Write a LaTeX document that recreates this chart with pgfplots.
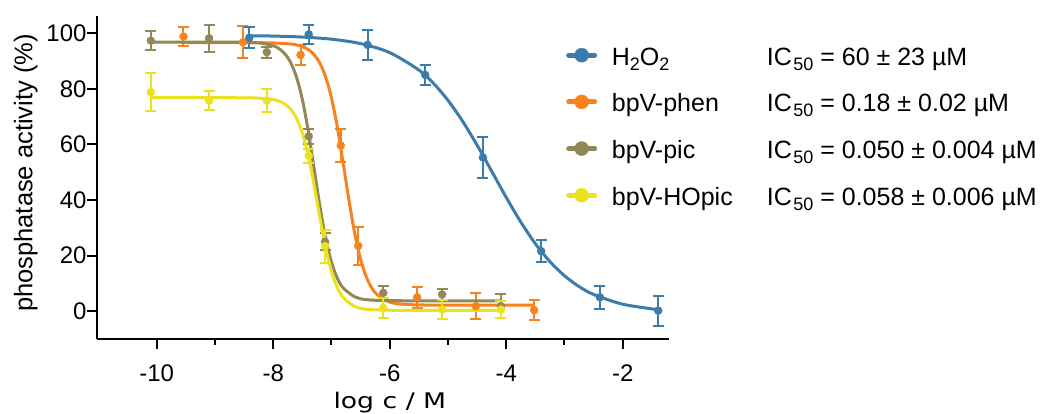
\documentclass[border=0pt]{standalone}
\usepackage{fontspec}
\setmainfont{Liberation Sans}
\newfontfamily\xlabfont{DejaVu Sans}
\usepackage{graphicx}
\usepackage{pgfplots}
\pgfplotsset{compat=1.18}
\definecolor{cblue}{RGB}{60,124,170}
\definecolor{corange}{RGB}{247,130,30}
\definecolor{colive}{RGB}{146,136,86}
\definecolor{cyellow}{RGB}{234,226,30}
\newcommand\sub[1]{\raisebox{-5pt}{\fontsize{18}{18}\selectfont #1}}
\pgfplotsset{
  datapts/.style={#1, only marks, mark=*, mark size=4pt, forget plot,
    error bars/y dir=both, error bars/y explicit,
    error bars/error bar style={line width=2pt, #1},
    error bars/error mark options={#1, line width=2pt, mark size=5.5pt, rotate=90}},
  fitcurve/.style={#1, line width=3pt, smooth, forget plot},
}
\begin{document}
\begin{tikzpicture}
\path[use as bounding box] (-97pt,-75pt) rectangle (948pt,339pt);
\begin{axis}[
  at={(0pt,0pt)}, anchor=south west, scale only axis,
  width=572pt, height=323pt,
  xmin=-11.025, xmax=-1.205, ymin=-10, ymax=106.2,
  axis x line*=bottom, axis y line*=left,
  axis line style={-, line width=2pt, black},
  xtick={-10,-8,-6,-4,-2}, xticklabels={-10,-8,-6,-4,-2},
  minor xtick={-9,-7,-5,-3},
  ytick={0,20,40,60,80,100}, yticklabels={0,20,40,60,80,100},
  tick align=outside, major tick length=10pt, minor tick length=6pt,
  tick style={line width=2pt, black},
  tick label style={font=\fontsize{24}{28}\selectfont},
  xticklabel style={yshift=-12pt},
  yticklabel style={xshift=3pt},
  every axis y label/.style={at={(axis description cs:-0.1247,0.514)}, rotate=90, anchor=center},
  every axis x label/.style={at={(axis description cs:0.512,-0.214)}, anchor=base},
  ylabel={\fontsize{25.5}{30}\selectfont phosphatase activity (\%)},
  xlabel={\xlabfont\fontsize{21.5}{25}\selectfont\scalebox{1.24}[1]{log c / M}},
  legend cell align=left,
  legend image code/.code={
    \draw[#1, line width=5pt, line cap=round] (2.5pt,0pt) -- (28.5pt,0pt);
    \fill[#1] (15.5pt,0pt) circle (7pt);},
  legend style={at={(axis description cs:0.8199,0.9102)}, anchor=north west,
    draw=none, fill=none, inner sep=0pt, row sep=26.7pt, column sep=14.7pt,
    nodes={inner sep=0pt, text height=20pt, text depth=0pt},
    font=\fontsize{25}{30}\selectfont},
]
\addlegendimage{cblue}
\addlegendentry{\makebox[155pt][l]{H\sub{2}O\sub{2}}IC\hspace{1.5pt}\sub{50} = 60 ± 23 µM}
\addlegendimage{corange}
\addlegendentry{\makebox[155pt][l]{bpV-phen}IC\hspace{1.5pt}\sub{50} = 0.18 ± 0.02 µM}
\addlegendimage{colive}
\addlegendentry{\makebox[155pt][l]{bpV-pic}IC\hspace{1.5pt}\sub{50} = 0.050 ± 0.004 µM}
\addlegendimage{cyellow}
\addlegendentry{\makebox[155pt][l]{bpV-HOpic}IC\hspace{1.5pt}\sub{50} = 0.058 ± 0.006 µM}

% ---- bpV-phen (orange)
\addplot[fitcurve=corange] coordinates {
(-9.54,96.6) (-8.5,96.6) (-8.0,96.5) (-7.625,95.92) (-7.425,94.47) (-7.325,92.88)
(-7.225,90.19) (-7.125,85.77) (-7.025,78.92) (-6.925,69.16) (-6.825,56.81)
(-6.725,43.31) (-6.625,30.77) (-6.525,20.72) (-6.425,13.58) (-6.325,8.97)
(-6.225,6.12) (-6.025,3.48) (-5.825,2.61) (-5.525,2.27) (-5.0,2.2) (-3.52,2.2)};
\addplot[datapts=corange] table[x=x, y=y, y error=e] {
x y e
-9.54 98.8 3.3
-8.52 96.8 5.8
-7.53 92.2 3.5
-6.84 59.6 6.0
-6.54 23.5 6.8
-5.53 5.0 3.8
-4.52 1.8 4.6
-3.52 0.4 3.6
};

% ---- H2O2 (blue)
\addplot[fitcurve=cblue] coordinates {
(-8.41,99.1) (-8.0,98.98) (-7.5,98.62) (-7.0,97.86) (-6.5,96.27) (-6.0,93.03)
(-5.5,86.78) (-5.25,82.0) (-5.0,75.88) (-4.75,68.4) (-4.5,59.75) (-4.25,50.4)
(-4.0,40.96) (-3.75,32.1) (-3.5,24.32) (-3.25,17.85) (-3.0,12.76) (-2.75,8.88)
(-2.5,6.03) (-2.0,2.52) (-1.39,0.54)};
\addplot[datapts=cblue] table[x=x, y=y, y error=e] {
x y e
-8.41 98.4 3.7
-7.39 99.6 3.5
-6.38 95.8 5.4
-5.39 85.0 3.5
-4.40 55.3 7.5
-3.40 21.6 3.9
-2.39 5.0 4.2
-1.39 0.2 5.4
};

% ---- bpV-pic (olive)
\addplot[fitcurve=colive] coordinates {
(-10.1,96.8) (-9.0,96.8) (-8.5,96.73) (-8.2,96.40) (-8.0,95.49) (-7.9,94.45)
(-7.8,92.60) (-7.7,89.44) (-7.6,84.21) (-7.5,76.19) (-7.4,65.05) (-7.3,51.64)
(-7.2,38.00) (-7.1,26.30) (-7.0,17.65) (-6.9,11.92) (-6.8,8.40) (-6.6,5.17)
(-6.4,4.15) (-6.0,3.8) (-5.0,3.7) (-4.09,3.7)};
\addplot[datapts=colive] table[x=x, y=y, y error=e] {
x y e
-10.10 97.3 3.5
-9.10 98.2 4.9
-8.11 93.2 2.0
-7.39 62.9 2.7
-7.11 25.0 3.0
-6.11 6.6 2.5
-5.10 6.0 2.0
-4.09 1.8 4.3
};

% ---- bpV-HOpic (yellow)
\addplot[fitcurve=cyellow] coordinates {
(-10.1,76.8) (-9.0,76.8) (-8.5,76.77) (-8.2,76.60) (-8.0,76.13) (-7.9,75.56)
(-7.8,74.52) (-7.7,72.66) (-7.6,69.42) (-7.5,64.12) (-7.4,56.15) (-7.3,45.60)
(-7.2,33.82) (-7.1,22.88) (-7.0,14.35) (-6.9,8.54) (-6.8,4.96) (-6.6,1.70)
(-6.4,0.71) (-6.0,0.35) (-5.0,0.3) (-4.09,0.3)};
\addplot[datapts=cyellow] table[x=x, y=y, y error=e] {
x y e
-10.10 78.8 6.9
-9.10 75.8 3.4
-8.11 75.8 4.3
-7.39 55.9 2.5
-7.11 23.4 5.9
-6.11 1.2 3.7
-5.10 0.6 3.4
-4.09 0.6 3.0
};
\end{axis}
\end{tikzpicture}
\end{document}
